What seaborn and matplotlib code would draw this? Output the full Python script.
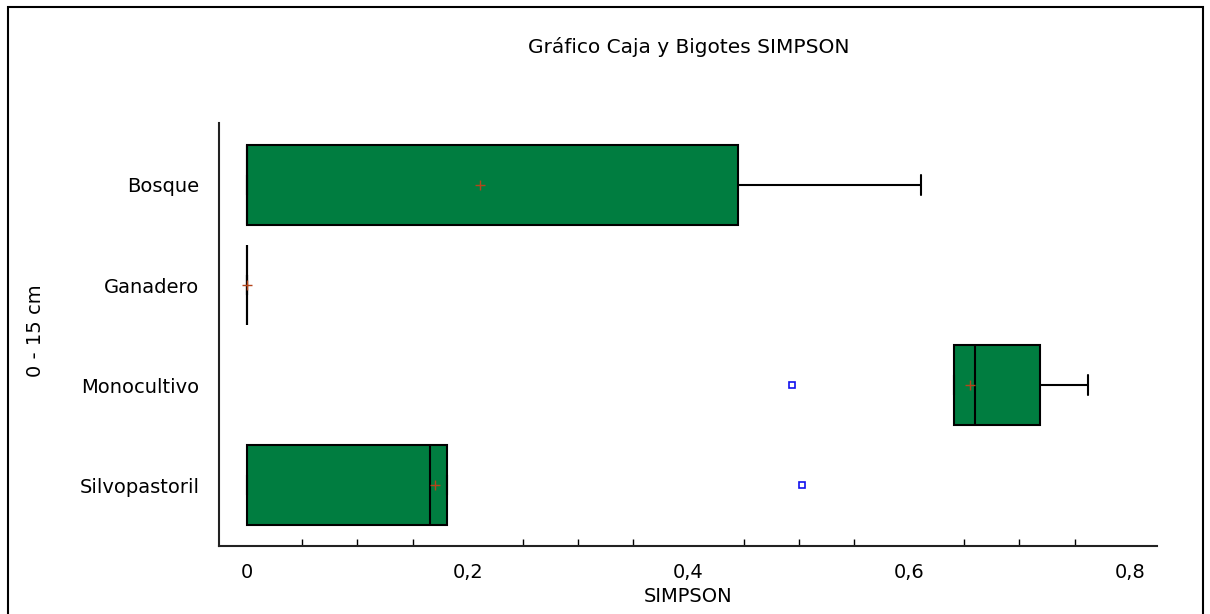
import pandas as pd
import matplotlib
matplotlib.use("Agg")
import matplotlib.pyplot as plt
import seaborn as sns
from matplotlib.patches import Rectangle
from matplotlib.ticker import MultipleLocator

# sample values per land use
categories = ["Bosque", "Ganadero", "Monocultivo", "Silvopastoril"]
bosque = [0.0, 0.0, 0.0, 0.445, 0.611]
ganadero = [0.0, 0.0, 0.0, 0.0, 0.0]
monocultivo = [0.494, 0.641, 0.660, 0.719, 0.762]
silvopastoril = [0.0, 0.0, 0.166, 0.181, 0.503]

x_ticks = [0, 0.2, 0.4, 0.6, 0.8]
x_tick_labels = ["0", "0,2", "0,4", "0,6", "0,8"]

values = [bosque, ganadero, monocultivo, silvopastoril]
df = pd.DataFrame({
    "uso": [c for c, v in zip(categories, values) for _ in v],
    "SIMPSON": [x for v in values for x in v],
})

sns.set_style("white")
plt.rcParams["font.family"] = ["DejaVu Sans"]
plt.rcParams["text.color"] = "black"
plt.rcParams["xtick.color"] = "black"
plt.rcParams["ytick.color"] = "black"
plt.rcParams["axes.labelcolor"] = "black"

fig = plt.figure(figsize=(12.1, 6.14), dpi=100)
ax = fig.add_axes([0.181, 0.1107, 0.775, 0.689])

sns.boxplot(
    data=df, x="SIMPSON", y="uso", order=categories, ax=ax,
    color="#007D40", saturation=1, width=0.8, linecolor="black", linewidth=1.5,
    showmeans=True,
    meanprops=dict(marker="+", markeredgecolor="#B5451B", markersize=6.5, markeredgewidth=1.0),
    flierprops=dict(marker="s", markerfacecolor="none", markeredgecolor="#1010EE",
                    markersize=5, markeredgewidth=1.2),
    capwidths=0.2,
)

ax.set_xlim(-0.0254, 0.8245)
ax.set_ylim(3.61, -0.62)
ax.set_xticks(x_ticks)
ax.set_xticklabels(x_tick_labels, fontsize=14)
ax.xaxis.set_minor_locator(MultipleLocator(0.05))
ax.tick_params(axis="x", which="major", direction="in", length=9, width=1, pad=12)
ax.tick_params(axis="x", which="minor", direction="in", length=5, width=1, bottom=True)
ax.tick_params(axis="y", length=0, labelsize=14, pad=14)

for s in ["top", "right"]:
    ax.spines[s].set_visible(False)
for s in ["left", "bottom"]:
    ax.spines[s].set_color("#222222")
    ax.spines[s].set_linewidth(1.5)

ax.set_xlabel("SIMPSON", fontsize=14, labelpad=4)
ax.set_ylabel("")
fig.text(0.029, 0.462, "0 - 15 cm", rotation=90, fontsize=14, ha="center", va="center")
fig.text(0.569, 0.923, "Gráfico Caja y Bigotes SIMPSON", fontsize=14.5, ha="center", va="center")

fig.patches.append(Rectangle((8 / 1210, -0.01), 1195 / 1210, 1.01 - 7 / 614,
                             transform=fig.transFigure, fill=False,
                             edgecolor="black", linewidth=1.5))

fig.savefig("out.png", dpi=100)
